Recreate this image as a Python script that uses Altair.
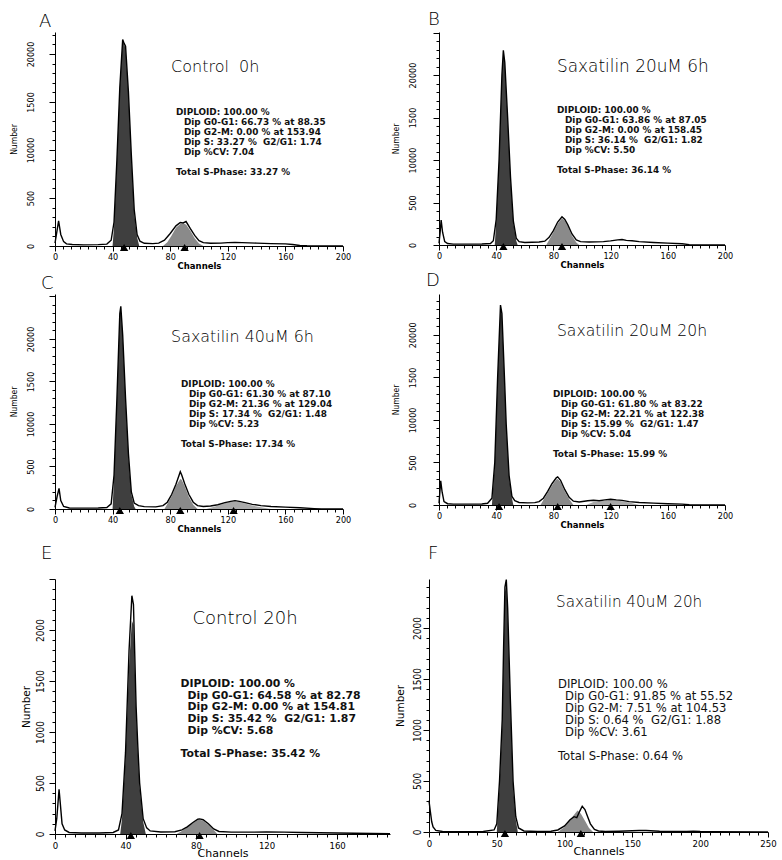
import altair as alt
import pandas as pd

# ---------------- data (channel, count) ----------------
A_HIST = [(0,30),(1,120),(2.5,262),(4,120),(6,45),(8,22),(12,15),(20,12),(30,14),(36,20),(39,60),(41,250),(43,900),(45,1650),(47,2150),(48,2110),(49,2080),(51,1600),(53,950),(55,380),(57,120),(59,50),(62,28),(68,25),(72,30),(76,60),(80,130),(84,210),(87,245),(89,240),(91,255),(94,180),(97,110),(100,55),(103,35),(108,28),(115,30),(120,35),(125,38),(130,35),(140,30),(150,25),(160,22),(165,15),(170,5),(175,2),(200,0)]
A_G1 = [(40,0),(41,200),(43,880),(45,1640),(47,2140),(48,2100),(49,2060),(51,1580),(53,920),(55,340),(57,90),(58.5,0)]
A_G2 = [(75,0),(78,40),(81,110),(84,190),(87,230),(89,235),(91,225),(94,160),(97,80),(100,25),(103,0)]
A_G2M = []
A_TRI = [48, 90]

B_HIST = [(0,20),(0.8,150),(1.5,294),(2.5,150),(4,40),(6,18),(10,10),(20,10),(30,12),(36,18),(38,50),(40,300),(42,1000),(44,2000),(45,2290),(46,2150),(48,1500),(50,800),(52,280),(54,80),(56,40),(60,30),(70,35),(74,45),(77,90),(80,170),(83,270),(86,333),(88,300),(90,240),(93,130),(96,60),(99,40),(105,35),(115,40),(120,48),(125,60),(128,65),(131,55),(135,50),(140,40),(150,30),(160,22),(170,15),(175,5),(180,0),(200,0)]
B_G1 = [(39,0),(40,280),(42,980),(44,1980),(45,2270),(46,2130),(48,1480),(50,780),(52,260),(54,50),(55,0)]
B_G2 = [(75,0),(77,60),(80,150),(83,250),(86,315),(88,285),(90,220),(93,110),(96,30),(98,0)]
B_G2M = []
B_TRI = [45, 86]

C_HIST = [(0,20),(1.5,150),(2.8,243),(4,100),(6,30),(10,12),(20,10),(30,12),(36,18),(39,60),(41,400),(43,1300),(45,2300),(45.7,2385),(47,2050),(49,1300),(51,650),(53,200),(55,70),(58,40),(62,28),(70,25),(75,40),(78,80),(81,170),(84,290),(87,439),(88,400),(90,300),(93,170),(96,80),(99,40),(103,30),(108,35),(113,50),(118,75),(122,90),(125,98),(128,90),(132,75),(137,55),(143,40),(150,30),(160,22),(170,15),(180,5),(185,0),(200,0)]
C_G1 = [(40,0),(41,380),(43,1280),(45,2280),(45.7,2360),(47,2030),(49,1280),(51,620),(53,170),(55,30),(56,0)]
C_G2 = [(76,0),(78,60),(81,150),(84,270),(87,353),(88,345),(90,270),(93,140),(96,50),(99,0)]
C_G2M = [(105,0),(110,25),(115,50),(120,80),(124,90),(128,82),(132,65),(137,40),(143,20),(150,0)]
C_TRI = [45, 87, 124]

D_HIST = [(0,20),(0.6,150),(1.2,283),(2.2,150),(3.5,40),(6,15),(10,10),(20,10),(30,12),(34,20),(37,80),(39,500),(41,1500),(43,2350),(44,2250),(46,1400),(47,950),(49,350),(51,100),(53,50),(56,30),(62,25),(67,28),(70,40),(73,80),(76,160),(79,250),(82,320),(83,330),(85,290),(88,180),(91,90),(94,45),(98,35),(104,50),(108,55),(112,50),(116,60),(120,67),(124,60),(128,55),(133,40),(140,30),(150,22),(160,15),(170,10),(175,3),(180,0),(200,0)]
D_G1 = [(37,0),(39,480),(41,1480),(43,2330),(44,2230),(46,1380),(47,930),(49,330),(51,80),(52,0)]
D_G2 = [(71,0),(73,60),(76,140),(79,230),(82,300),(83,305),(85,270),(88,160),(91,70),(94,0)]
D_G2M = [(103,0),(108,35),(113,45),(117,55),(120,60),(124,55),(128,45),(133,30),(140,0)]
D_TRI = [42, 83, 120]

E_HIST = [(0,30),(1,150),(2.3,437),(3,300),(4,100),(5.5,40),(8,15),(15,10),(25,10),(33,15),(36,40),(38,200),(40,800),(42,1800),(43.6,2336),(44.5,2250),(46,1250),(47,850),(48,500),(50,150),(52,60),(54,30),(60,20),(68,22),(72,40),(75,70),(78,110),(81,145),(82,148),(84,140),(87,100),(90,50),(93,25),(100,18),(110,18),(120,20),(130,18),(140,15),(150,12),(160,10),(170,8),(180,5),(190,3)]
E_G1 = [(37,0),(38,150),(40,750),(42,1650),(43.6,2090),(44.5,2050),(46,1200),(47,800),(48,460),(50,120),(51.5,0)]
E_G2 = [(69,0),(72,30),(75,65),(78,105),(81,138),(82,140),(84,130),(87,90),(90,40),(92,0)]
E_G2M = []
E_TRI = [43, 82]

F_HIST = [(0,306),(1,200),(2,100),(3,50),(5,15),(10,5),(20,3),(30,3),(40,5),(48,20),(50,80),(52,500),(54,1100),(55,1800),(56,2400),(57,2475),(58,2200),(60,1300),(62,500),(64,150),(66,40),(70,10),(80,5),(90,8),(95,20),(100,60),(104,120),(107,150),(109,140),(111,200),(113,252),(115,220),(117,150),(119,80),(122,25),(125,10),(130,5),(140,8),(150,12),(155,15),(160,14),(170,8),(180,5),(190,5),(195,8),(200,5),(210,2),(250,0)]
F_G1 = [(50,0),(52,450),(54,1050),(55,1750),(56,2350),(57,2430),(58,2150),(60,1250),(62,450),(64,120),(65.5,0)]
F_G2 = [(95,0),(100,50),(104,120),(107,170),(109.5,210),(112,180),(115,110),(118,40),(121,0)]
F_G2M = []
F_TRI = [56, 112]

NB = "\u00a0"
TITLES = {
    "A": "Control" + NB + NB + "0h",
    "B": "Saxatilin 20uM 6h",
    "C": "Saxatilin 40uM 6h",
    "D": "Saxatilin 20uM 20h",
    "E": "Control 20h",
    "F": "Saxatilin 40uM 20h",
}
STATS = {
    "A": ["100.00 %", "66.73 % at 88.35", "0.00 % at 153.94", "33.27 %", "1.74", "7.04", "33.27 %"],
    "B": ["100.00 %", "63.86 % at 87.05", "0.00 % at 158.45", "36.14 %", "1.82", "5.50", "36.14 %"],
    "C": ["100.00 %", "61.30 % at 87.10", "21.36 % at 129.04", "17.34 %", "1.48", "5.23", "17.34 %"],
    "D": ["100.00 %", "61.80 % at 83.22", "22.21 % at 122.38", "15.99 %", "1.47", "5.04", "15.99 %"],
    "E": ["100.00 %", "64.58 % at 82.78", "0.00 % at 154.81", "35.42 %", "1.87", "5.68", "35.42 %"],
    "F": ["100.00 %", "91.85 % at 55.52", "7.51 % at 104.53", "0.64 %", "1.88", "3.61", "0.64 %"],
}

# ---------------- styling / layout ----------------
NARROW = "Liberation Sans Narrow, DejaVu Sans Condensed, Arial Narrow, Liberation Sans, sans-serif"
SANS = "DejaVu Sans"

PANELS = {
    "A": dict(hist=A_HIST, g1=A_G1, g2=A_G2, g2m=A_G2M, tri=A_TRI, xdom=[0, 200], xmajor=40, ymax=2229,
              w=288, h=214, big=False, lab_pad=14, ttl_pad=8, letter_pos=(-11.1, 2281),
              title_pos=(80.6, 1865), title_size=16, stats_pos=(84, 1396), stat_size=8.9, lh=10, indent=8, bold=True),
    "B": dict(hist=B_HIST, g1=B_G1, g2=B_G2, g2m=B_G2M, tri=B_TRI, xdom=[0, 200], xmajor=40, ymax=2506,
              w=286, h=213, big=False, lab_pad=16, ttl_pad=8, letter_pos=(-7.7, 2588),
              title_pos=(82.5, 2094), title_size=16.9, stats_pos=(82.5, 1588), stat_size=8.9, lh=10, indent=8, bold=True),
    "C": dict(hist=C_HIST, g1=C_G1, g2=C_G2, g2m=C_G2M, tri=C_TRI, xdom=[0, 200], xmajor=40, ymax=2529,
              w=288, h=215, big=False, lab_pad=14, ttl_pad=8, letter_pos=(-9.7, 2588),
              title_pos=(80.6, 2024), title_size=15.9, stats_pos=(87.5, 1470), stat_size=8.9, lh=10, indent=8, bold=True),
    "D": dict(hist=D_HIST, g1=D_G1, g2=D_G2, g2m=D_G2M, tri=D_TRI, xdom=[0, 200], xmajor=40, ymax=2480,
              w=286, h=211, big=False, lab_pad=16, ttl_pad=8, letter_pos=(-9.1, 2573),
              title_pos=(82.5, 2045), title_size=15.6, stats_pos=(79.7, 1304), stat_size=8.9, lh=10, indent=8, bold=True),
    "E": dict(hist=E_HIST, g1=E_G1, g2=E_G2, g2m=E_G2M, tri=E_TRI, xdom=[0, 190], xmajor=40, ymax=2500,
              w=335, h=255, big=True, lab_pad=4, ttl_pad=4, letter_pos=(-7.9, 2696),
              title_pos=(78, 2108), title_size=18, stats_pos=(71.2, 1471), stat_size=10.85, lh=11.7, indent=7, bold=True),
    "F": dict(hist=F_HIST, g1=F_G1, g2=F_G2, g2m=F_G2M, tri=F_TRI, xdom=[0, 250], xmajor=50, ymax=2480,
              w=339, h=253, big=True, lab_pad=1, ttl_pad=7, letter_pos=(-0.7, 2676),
              title_pos=(93.7, 2255), title_size=15.2, stats_pos=(95.1, 1441), stat_size=11.6, lh=12, indent=7, bold=False),
}


def frame(pairs):
    return pd.DataFrame(pairs, columns=["ch", "ct"])


def xtick_values(lo, hi, major):
    step = major / 7.0
    vals, k = [], 0
    while k * step <= hi + 1e-9:
        v = round(k * step, 4)
        if v >= lo - 1e-9:
            vals.append(v)
        k += 1
    return vals


def panel(key):
    p = PANELS[key]
    big = p["big"]
    xs = alt.Scale(domain=p["xdom"], nice=False, zero=False)
    ys = alt.Scale(domain=[0, p["ymax"]], nice=False)
    m = p["xmajor"]
    xaxis = alt.Axis(
        values=xtick_values(p["xdom"][0], p["xdom"][1], m),
        labelExpr=f"(abs(datum.value % {m}) < 0.01) ? format(datum.value, 'd') : ''",
        tickSize={"condition": {"test": f"abs(datum.value % {m}) < 0.01", "value": 5}, "value": 3},
        labelOverlap=False, labelFlush=False, labelPadding=1,
        labelFont=NARROW, labelFontSize=9.5 if big else 9,
        title="Channels", titleFont=SANS, titleFontSize=11 if big else 8.5,
        titleFontWeight="normal" if big else "bold", titlePadding=-2 if big else 0,
        grid=False,
    )
    if big:
        ylab = "(datum.value % 500 === 0 && datum.value <= 2000) ? format(datum.value, 'd') : ''"
    else:
        ylab = ("(datum.value % 500 === 0 && datum.value <= 2000) ? (datum.value === 1000 ? '10000' : "
                "(datum.value === 2000 ? '20000' : format(datum.value, 'd'))) : ''")
    yaxis = alt.Axis(
        values=list(range(0, int(p["ymax"]) + 1, 100)),
        labelExpr=ylab, labelAngle=270, labelOverlap=False,
        tickSize={"condition": {"test": "datum.value % 500 === 0", "value": 6}, "value": 3},
        labelPadding=p["lab_pad"], labelFont=NARROW, labelFontSize=10 if big else 9,
        title="Number", titleFont=NARROW if not big else SANS, titleFontSize=10.5 if big else 8.5,
        titleFontWeight="normal", titlePadding=p["ttl_pad"], grid=False,
    )

    def X(**kw):
        return alt.X(scale=xs, axis=xaxis, **kw)

    def Y(**kw):
        return alt.Y(scale=ys, axis=yaxis, **kw)

    def series(pairs, mark):
        return alt.Chart(frame(pairs)).mark_area(color=mark, opacity=1).encode(
            x=X(field="ch", type="quantitative"), y=Y(field="ct", type="quantitative"))

    layers = []
    if p["g2m"]:
        layers.append(series(p["g2m"], "#a9a9a9"))
    layers.append(series(p["g2"], "#8a8a8a"))
    layers.append(series(p["g1"], "#3f3f3f"))
    layers.append(alt.Chart(frame(p["hist"])).mark_line(color="black", strokeWidth=1.4)
                  .encode(x=X(field="ch", type="quantitative"), y=Y(field="ct", type="quantitative")))
    tri = pd.DataFrame({"ch": p["tri"], "ct": [0] * len(p["tri"])})
    layers.append(alt.Chart(tri).mark_point(shape="triangle-up", filled=True, color="black",
                                            size=70, opacity=1, yOffset=1.5)
                  .encode(x=X(field="ch", type="quantitative"), y=Y(field="ct", type="quantitative")))

    # panel letter
    lx, ly = p["letter_pos"]
    layers.append(alt.Chart().mark_text(text=key, align="left", baseline="alphabetic",
                                        font=SANS, fontSize=18, fontWeight=200, color="black")
                  .encode(x=X(datum=lx, type="quantitative"), y=Y(datum=ly, type="quantitative")))

    tx, ty = p["title_pos"]
    layers.append(alt.Chart().mark_text(text=TITLES[key], align="left", baseline="middle",
                                        font=SANS, fontSize=p["title_size"], fontWeight=200, color="black")
                  .encode(x=X(datum=tx, type="quantitative"), y=Y(datum=ty, type="quantitative")))

    s = STATS[key]
    sx, sy = p["stats_pos"]
    wt = "bold" if p["bold"] else "normal"
    lines = [
        ("DIPLOID: " + s[0], 0, 0),
        ("Dip G0-G1: " + s[1], p["indent"], 1),
        ("Dip G2-M: " + s[2], p["indent"], 2),
        ("Dip S: " + s[3] + NB + NB + "G2/G1: " + s[4], p["indent"], 3),
        ("Dip %CV: " + s[5], p["indent"], 4),
        ("Total S-Phase: " + s[6], 0, 6),
    ]
    for text, dx, idx in lines:
        layers.append(alt.Chart().mark_text(text=text, align="left", baseline="middle",
                                            dx=dx, dy=idx * p["lh"],
                                            font=SANS, fontSize=p["stat_size"], fontWeight=wt, color="#111")
                      .encode(x=X(datum=sx, type="quantitative"), y=Y(datum=sy, type="quantitative")))

    return alt.layer(*layers).properties(width=p["w"], height=p["h"])


row1 = alt.hconcat(panel("A"), panel("B"), spacing=39)
row2 = alt.hconcat(panel("C"), panel("D"), spacing=39)
row3 = alt.hconcat(panel("E"), panel("F"), spacing=2)

top = alt.vconcat(row1, row2, spacing=2)
chart = alt.vconcat(top, row3, spacing=12).properties(
    padding={"left": 8, "top": 11, "right": 0, "bottom": 0},
    background="white",
).configure_view(stroke=None).configure_axis(
    domainColor="black", tickColor="black", labelColor="black", titleColor="black",
    domainWidth=1, tickWidth=1,
)

chart.save("out.html", embed_options={"renderer": "svg", "actions": False})
